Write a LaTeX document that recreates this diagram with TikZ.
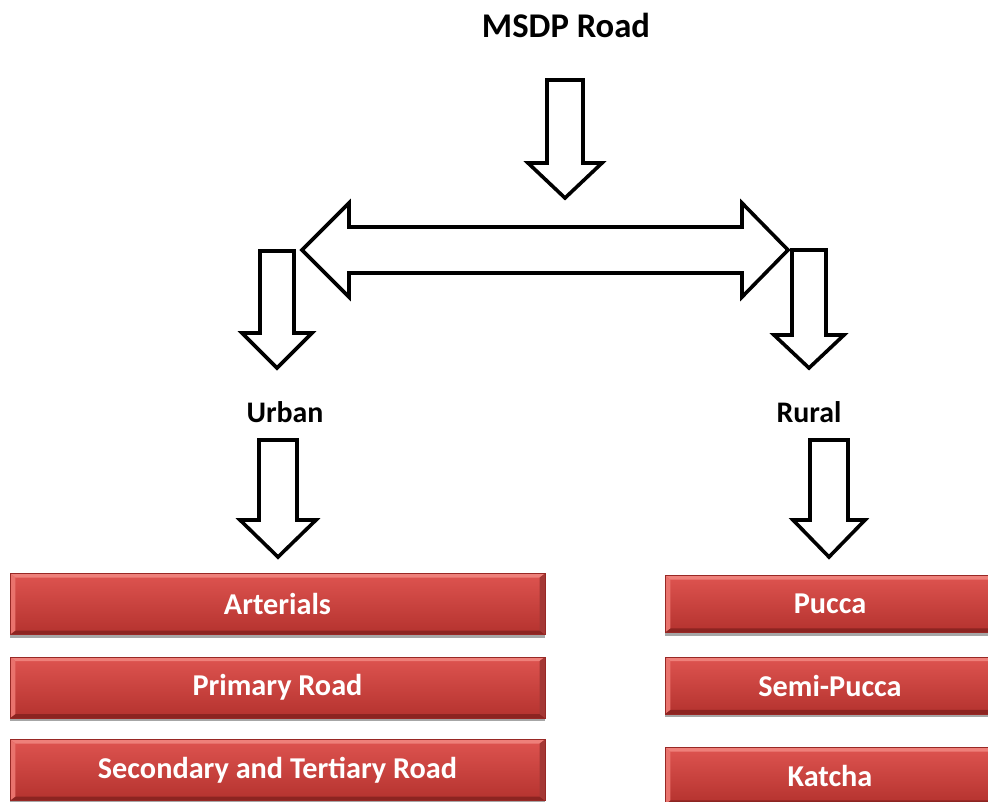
\documentclass[tikz,border=0pt]{standalone}
\usepackage{fontspec}
\setmainfont{Carlito}
\usetikzlibrary{shadows}
\definecolor{boxtop}{RGB}{222,84,80}
\definecolor{boxbot}{RGB}{180,50,46}
\definecolor{bevtop}{RGB}{238,128,122}
\definecolor{bevbot}{RGB}{140,36,33}
\definecolor{bevside}{RGB}{205,70,66}
\newcommand{\myDownArrow}[6]{% cx, top, shaft half, wing y, head half, tip y
  \draw[blockarrow] (#1-#3,#2) -- (#1+#3,#2) -- (#1+#3,#4) -- (#1+#5,#4) -- (#1,#6) -- (#1-#5,#4) -- (#1-#3,#4) -- cycle;}
\tikzset{
  blockarrow/.style={draw=black, line width=2.7pt, fill=white, line join=miter},
  titletext/.style={font=\bfseries\fontsize{26}{30}\selectfont, text=black, inner sep=0pt},
  cattext/.style={font=\bfseries\fontsize{22.4}{26}\selectfont, text=black, inner sep=0pt},
  redbox/.style={rectangle, inner sep=0pt, top color=boxtop, bottom color=boxbot,
    draw=bevbot!70!boxbot, line width=0.5pt, text=white,
    font=\bfseries\fontsize{22.7}{26}\selectfont,
    drop shadow={shadow xshift=0pt, shadow yshift=-2.5pt, opacity=0.35, fill=black},
    path picture={
      \fill[bevtop] (path picture bounding box.north west) -- (path picture bounding box.north east)
        -- ([xshift=-4pt,yshift=-3pt]path picture bounding box.north east) -- ([xshift=4pt,yshift=-3pt]path picture bounding box.north west) -- cycle;
      \fill[bevbot] (path picture bounding box.south west) -- (path picture bounding box.south east)
        -- ([xshift=-4pt,yshift=3pt]path picture bounding box.south east) -- ([xshift=4pt,yshift=3pt]path picture bounding box.south west) -- cycle;
      \fill[bevtop!70!boxtop] (path picture bounding box.north west) -- ([xshift=4pt,yshift=-3pt]path picture bounding box.north west)
        -- ([xshift=4pt,yshift=3pt]path picture bounding box.south west) -- (path picture bounding box.south west) -- cycle;
      \fill[bevside!80!black] (path picture bounding box.north east) -- ([xshift=-4pt,yshift=-3pt]path picture bounding box.north east)
        -- ([xshift=-4pt,yshift=3pt]path picture bounding box.south east) -- (path picture bounding box.south east) -- cycle;
    }},
  leftbox/.style={redbox, minimum width=401.25pt, minimum height=45.75pt},
  rightbox/.style={redbox, minimum width=247.5pt, minimum height=42.5pt}
}
\begin{document}
\begin{tikzpicture}[x=0.75pt, y=-0.75pt]
\useasboundingbox (0,0) rectangle (988,802);
\clip (0,0) rectangle (988,802);

% titles
\node[titletext] (msdp) at (566,25) {MSDP Road};
\node[cattext] (urban) at (285,412) {Urban};
\node[cattext] (rural) at (809,412) {Rural};

% block arrows
\myDownArrow{565}{80}{18}{163}{37}{198}
\draw[blockarrow] (302,250) -- (349,203) -- (349,227) -- (742,227) -- (742,203) -- (788,250)
  -- (742,297) -- (742,273) -- (349,273) -- (349,297) -- cycle;
\myDownArrow{277}{251}{17}{333}{35}{368}
\myDownArrow{809}{250}{17}{335}{35}{368}
\myDownArrow{278}{440}{19}{520}{38}{557}
\myDownArrow{829}{440}{19}{520}{36}{557}

% boxes
\node[leftbox] (arterials) at (277.5,604) {Arterials};
\node[leftbox] (primary) at (277.5,687.5) {Primary Road};
\node[leftbox] (secondary) at (277.5,770) {Secondary and Tertiary Road};
\node[rightbox] (pucca) at (830,604) {Pucca};
\node[rightbox] (semipucca) at (830,685.5) {Semi-Pucca};
\node[rightbox] (katcha) at (830,776) {Katcha};
\end{tikzpicture}
\end{document}
